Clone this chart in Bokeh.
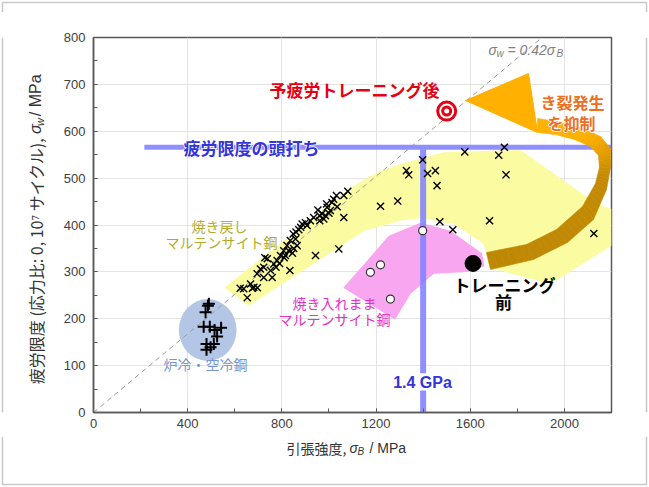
import numpy as np
from bokeh.plotting import figure
from bokeh.layouts import row, column
from bokeh.models import Label, SingleIntervalTicker, Range1d
from bokeh.embed import file_html
from bokeh.resources import INLINE

# ---------------- data ----------------
# tempered martensite (x markers)
tm_x = [1080, 1063, 1032, 1013, 1035, 1063, 992, 971, 953, 978, 935, 921, 907, 886,
        872, 848, 836, 822, 808, 794, 780, 766, 752, 738, 723, 709, 695, 723, 759,
        667, 681, 638, 653, 834, 943, 1042, 858, 865, 829, 815, 1006, 961, 623, 675,
        696, 728, 985, 960, 900, 850, 845, 860, 990, 1000, 1020, 880, 790, 810, 775,
        1398, 1577, 1721, 1745, 1752, 1329, 1339, 1419, 1452, 1459, 1219, 1292, 1471,
        1526, 1682, 2125]
tm_y = [472, 463, 463, 448, 439, 416, 438, 424, 432, 413, 416, 409, 399, 402,
        390, 381, 367, 356, 345, 335, 324, 317, 303, 328, 310, 306, 296, 288, 288,
        274, 267, 264, 245, 303, 335, 349, 370, 356, 345, 335, 431, 409, 265, 265,
        266, 330, 420, 420, 405, 350, 340, 385, 445, 425, 455, 395, 318, 330, 310,
        539, 556, 549, 566, 507, 516, 507, 510, 516, 484, 440, 451, 407,
        390, 409, 382]
# furnace / air cooled steel (+ markers)
fc_x = [490, 486, 476, 468, 494, 514, 542, 525, 511, 480, 480, 497]
fc_y = [232, 228, 214, 183, 183, 176, 181, 162, 146, 146, 134, 139]
# as-quenched martensite (open circles)
aq_x = [1176, 1219, 1261, 1398]
aq_y = [299, 315, 242, 388]
# before / after pre-fatigue training
before_x, before_y = [1612], [318]
after_x, after_y = [1500], [643]
ratio = 0.42           # sigma_w = 0.42 sigma_B
limit_y = 566          # fatigue limit plateau
limit_x = 1400         # 1.4 GPa

x_ticks_interval = 400
y_ticks_interval = 100


# ---------------- helpers (page pixel -> data of main plot) ----------------
def X(px):
    return (px - 93.0) * 2200.0 / 518.0


def Y(py):
    return (412.0 - py) * 800.0 / 375.0


JP = "Noto Sans CJK JP"
LAT = "Liberation Sans"
TOP = 12      # top strip height
PH = 424      # main row height (page y TOP..436)
W = 648
HB = 486      # total height
FRAME_COL = "#c8c8c8"

p = figure(width=590, height=PH, x_range=Range1d(0, 2200), y_range=Range1d(0, 800),
           output_backend="svg", toolbar_location=None,
           min_border_left=43, min_border_right=29, min_border_top=37 - TOP,
           min_border_bottom=TOP + PH - 412)
p.background_fill_color = "white"
p.border_fill_color = "white"
p.outline_line_color = "#595959"
p.outline_line_width = 1.5

for ax, iv in ((p.xaxis, x_ticks_interval), (p.yaxis, y_ticks_interval)):
    ax.ticker = SingleIntervalTicker(interval=iv, num_minor_ticks=2)
    ax.major_tick_in = 4
    ax.major_tick_out = 0
    ax.minor_tick_in = 4
    ax.minor_tick_out = 0
    ax.axis_line_color = "#595959"
    ax.axis_line_width = 1.5
    ax.major_tick_line_color = "#595959"
    ax.minor_tick_line_color = "#595959"
    ax.major_label_text_font = LAT
    ax.major_label_text_font_size = "13px"
    ax.major_label_text_color = "#404040"
p.xaxis.major_label_standoff = 6
p.yaxis.major_label_standoff = 8
p.xgrid.grid_line_color = "#e4e4e4"
p.ygrid.grid_line_color = "#e4e4e4"

# ---------------- regions ----------------
yel_x = [X(224), 1105, 1219, 1304, 1488, 1813, 2139, 2200, 2200, 1940, 1681,
         1657, 1530, 1389, 1304, 1149, 660]
yel_y = [Y(287), 484, 516, 530, 555, 560, 445, 434, 356, 274, 309,
         360, 402, 415, 409, 387, 228]
p.patch(yel_x, yel_y, fill_color="#fbfba2", line_color=None)

pink_x = [1061, 1254, 1389, 1516, 1650, 1660, 1587, 1445, 1346, 1281]
pink_y = [266, 377, 405, 388, 340, 312, 300, 296, 253, 198]
p.patch(pink_x, pink_y, fill_color="#f8a6f0", line_color=None)

p.ellipse(x=[485], y=[176], width=[245], height=[132], fill_color="#b4c6e6", line_color=None)

# reference line
p.line([0, 800 / ratio], [0, 800], line_color="#9a9a9a", line_dash="5 4", line_width=1)

# plateau bands
band = "#8383ff"
p.segment(x0=[216], y0=[limit_y], x1=[2200], y1=[limit_y], line_color=band, line_width=5, line_alpha=0.9)
p.segment(x0=[limit_x, limit_x], y0=[0, 84], x1=[limit_x, limit_x], y1=[47, limit_y - 5],
          line_color=band, line_width=6, line_alpha=0.9)

# ---------------- curved arrow ----------------
outer = np.array([(490, 269), (533, 259), (567, 242), (593, 219), (606, 189), (610, 167),
                  (610, 148), (600, 136), (580, 127), (556, 121), (537, 118)], float)
inner = np.array([(486, 252), (526, 244), (556, 229), (582, 206), (595, 183), (599, 167),
                  (598, 155), (590, 146), (574, 139), (555, 134), (537, 132)], float)
n = len(outer)
t0 = np.arange(n)
ts = np.linspace(0, n - 1, 61)
ox = np.interp(ts, t0, outer[:, 0]); oy = np.interp(ts, t0, outer[:, 1])
ix = np.interp(ts, t0, inner[:, 0]); iy = np.interp(ts, t0, inner[:, 1])
stops_t = [0.0, 0.45, 0.62, 0.75, 1.0]
stops_c = [(190, 136, 6), (196, 138, 4), (232, 160, 0), (252, 176, 0), (255, 178, 0)]
xs, ys, cols = [], [], []
for k in range(len(ts) - 1):
    xs.append([X(ox[k]), X(ox[k + 1]), X(ix[k + 1]), X(ix[k])])
    ys.append([Y(oy[k]), Y(oy[k + 1]), Y(iy[k + 1]), Y(iy[k])])
    f = (k + 0.5) / (len(ts) - 1)
    c = [int(np.interp(f, stops_t, [s[j] for s in stops_c])) for j in range(3)]
    cols.append("#%02x%02x%02x" % tuple(c))
p.patches(xs, ys, fill_color=cols, line_color=cols, line_width=0.6)
p.patch([X(465), X(528), X(537)], [Y(100), Y(73), Y(132)], fill_color="#ffb000", line_color="#ffb000")

# ---------------- markers ----------------
p.scatter(tm_x, tm_y, marker="x", size=10, line_color="black", line_width=1.4)
p.scatter(fc_x, fc_y, marker="cross", size=12, line_color="black", line_width=2)
p.scatter(aq_x, aq_y, marker="circle", size=8, fill_color="white", line_color="#333333", line_width=1.2)
p.scatter(before_x, before_y, marker="circle", size=16, fill_color="black", line_color="black")
red = "#e60012"
for s, c in ((21, red), (15, "white"), (11, red), (5, "white")):
    p.scatter(after_x, after_y, marker="circle", size=s, fill_color=c, line_color=None)


# ---------------- texts ----------------
def lab(fig, x, y, text, color, size, bold=False, font=JP, align="center", outline=False, italic=False,
        angle=0.0, baseline="middle"):
    style = "bold" if bold else ("italic" if italic else "normal")
    kw = dict(x=x, y=y, text=text, text_font=font, text_font_size=f"{size}px",
              text_font_style=style, text_align=align, text_baseline=baseline, angle=angle)
    if outline:
        fig.add_layout(Label(text_color="white", text_outline_color="white", **kw))
    fig.add_layout(Label(text_color=color, **kw))


def labp(px, py, *a, **k):
    lab(p, X(px), Y(py), *a, **k)


labp(354, 89, "予疲労トレーニング後", red, 17, bold=True)
labp(251, 147, "疲労限度の頭打ち", "#3434dc", 17, bold=True, outline=True)
labp(572, 101, "き裂発生", "#ec6f22", 16, bold=True, outline=True)
labp(571, 122, "を抑制", "#ec6f22", 16, bold=True, outline=True)
labp(422, 382, "1.4 GPa", "#3434dc", 16, bold=True, font=LAT)
labp(219, 225, "焼き戻し", "#b5ad2a", 14)
labp(221, 241, "マルテンサイト鋼", "#b5ad2a", 14)
labp(334, 302, "焼き入れまま", "#e431c8", 14)
labp(334, 318, "マルテンサイト鋼", "#e431c8", 14)
labp(205, 363, "炉冷・空冷鋼", "#7694d0", 14)
labp(504, 284, "トレーニング", "black", 17, bold=True)
labp(503, 301, "前", "black", 17, bold=True)

grey = "#7f7f7f"
labp(488, 49, "σ", grey, 14, font=LAT, italic=True, align="left")
labp(496, 53, "w", grey, 10, font=LAT, italic=True, align="left")
labp(507, 49, "= 0.42σ", grey, 14, font=LAT, italic=True, align="left")
labp(556, 53, "B", grey, 10, font=LAT, italic=True, align="left")

ax_col = "#333333"


def strip(w, h):
    f = figure(width=w, height=h, x_range=Range1d(0, w), y_range=Range1d(0, h),
               output_backend="svg", toolbar_location=None, x_axis_type=None, y_axis_type=None,
               min_border=0)
    f.outline_line_color = None
    return f


# top strip (page y 0..TOP)
ts_fig = strip(W, TOP)
ts_fig.line([2, 2, W - 2, W - 2], [0, TOP - 2, TOP - 2, 0], line_color=FRAME_COL, line_width=1.5)

# y axis title panel (page x 0..50, y TOP..TOP+PH)
yl = strip(50, PH)
yl.line([2, 2], [0, PH], line_color=FRAME_COL, line_width=1.5)
ang = np.pi / 2
yb = TOP + PH
lab(yl, 35, yb - 121, "疲労限度 (応力比: 0, 10⁷ サイクル), ", ax_col, 16, align="right", angle=ang)
lab(yl, 35, yb - 121, "σ", ax_col, 16, font=LAT, italic=True, align="left", angle=ang)
lab(yl, 39, yb - 112, "w", ax_col, 11, font=LAT, italic=True, align="left", angle=ang)
lab(yl, 35, yb - 101, "/ MPa", ax_col, 16, font=LAT, align="left", angle=ang)

# right strip (page x 640..W)
rs = strip(W - 640, PH)
rs.line([W - 2 - 640, W - 2 - 640], [0, PH], line_color=FRAME_COL, line_width=1.5)

# x axis title panel (page y TOP+PH..HB)
XH = HB - yb
xl = strip(W, XH)
xl.line([2, 2, W - 2, W - 2], [XH, 2, 2, XH], line_color=FRAME_COL, line_width=1.5)
lab(xl, 349, HB - 447, "引張強度, ", ax_col, 14, align="right")
lab(xl, 349, HB - 447, "σ", ax_col, 14, font=LAT, italic=True, align="left")
lab(xl, 357, HB - 451, "B", ax_col, 10, font=LAT, italic=True, align="left")
lab(xl, 369, HB - 447, "/ MPa", ax_col, 14, font=LAT, align="left")

layout = column(ts_fig, row(yl, p, rs, spacing=0), xl, spacing=0)
open("out.html", "w").write(file_html(layout, INLINE))
